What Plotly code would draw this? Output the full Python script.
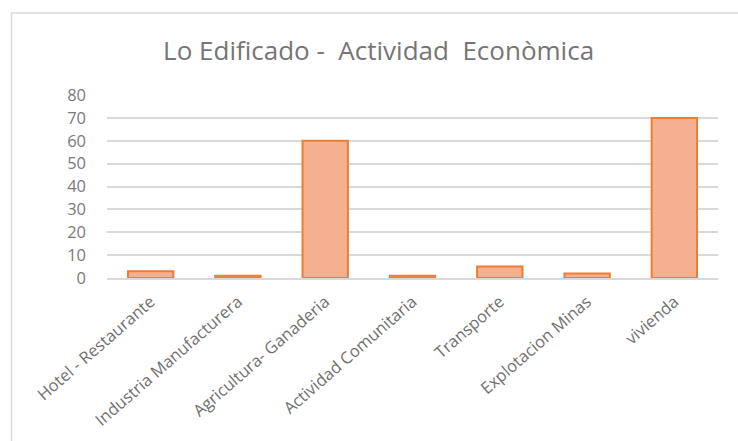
import plotly.graph_objects as go

categories = [
    "Hotel - Restaurante",
    "Industria Manufacturera",
    "Agricultura- Ganaderia",
    "Actividad Comunitaria",
    "Transporte",
    "Explotacion Minas",
    "vivienda",
]
values = [3, 1, 60, 1, 5, 2, 70]
y_ticks = [0, 10, 20, 30, 40, 50, 60, 70, 80]
title_text = "Lo Edificado -\u00a0 Actividad\u00a0 Econòmica"

fig = go.Figure(
    go.Bar(
        x=categories,
        y=values,
        width=0.52,
        marker=dict(color="#F5B18F", line=dict(color="#ED7D31", width=2)),
        hoverinfo="x+y",
    )
)

fig.update_layout(
    width=738,
    height=441,
    margin=dict(l=107, r=20, t=95, b=163),
    paper_bgcolor="white",
    plot_bgcolor="white",
    showlegend=False,
    title=dict(
        text=title_text,
        x=0.513,
        xanchor="center",
        y=0.885,
        yanchor="middle",
        font=dict(family="Open Sans", size=26, color="#757575"),
    ),
    xaxis=dict(
        automargin=False,
        tickangle=-41,
        tickfont=dict(family="Open Sans", size=16.5, color="#707070"),
        showgrid=False,
        showline=True,
        linecolor="#d9d9d9",
        linewidth=1.5,
        ticks="",
        ticklabelstandoff=6,
    ),
    yaxis=dict(
        automargin=False,
        range=[0, 80],
        tickvals=y_ticks,
        tickfont=dict(family="Open Sans", size=16.5, color="#7a7a7a"),
        showgrid=True,
        gridcolor="#d9d9d9",
        gridwidth=1.5,
        zeroline=False,
        showline=False,
        ticks="",
        ticklabelstandoff=20,
    ),
    shapes=[
        dict(
            type="rect",
            xref="paper",
            yref="paper",
            x0=(11.5 - 107) / 611,
            x1=(760 - 107) / 611,
            y0=-(460 - 278) / 183,
            y1=1 + (95 - 13) / 183,
            line=dict(color="#d9d9d9", width=1.5),
            fillcolor="rgba(0,0,0,0)",
            layer="above",
        )
    ],
)

fig.write_html("out.html")
